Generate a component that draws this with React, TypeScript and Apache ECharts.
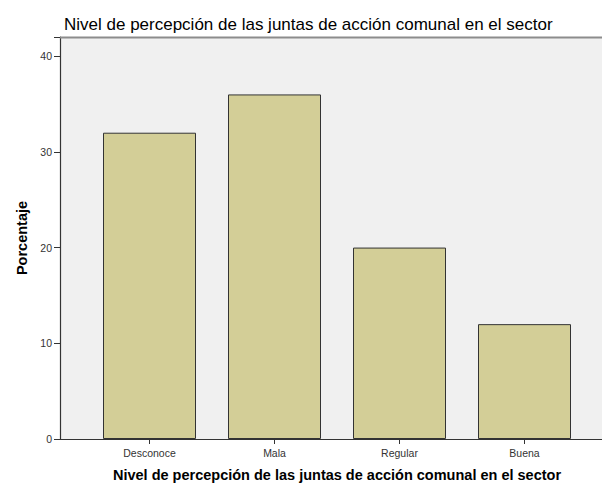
import React, { useEffect, useRef } from "react";
import * as echarts from "echarts";

const categories = ["Desconoce", "Mala", "Regular", "Buena"];
const percentages = [32, 36, 20, 12];
const yTicks = { min: 0, max: 42, interval: 10 };
const titleText = "Nivel de percepción de las juntas de acción comunal en el sector";
const xAxisTitle = "Nivel de percepción de las juntas de acción comunal en el sector";
const yAxisTitle = "Porcentaje";

export default function App() {
  const ref = useRef<HTMLDivElement>(null);
  useEffect(() => {
    if (!ref.current) return;
    const chart = echarts.init(ref.current, null, { renderer: "svg" });
    const font = "Liberation Sans, Arial, sans-serif";
    chart.setOption({
      animation: false,
      backgroundColor: "#ffffff",
      textStyle: { fontFamily: font },
      title: {
        text: titleText,
        left: 59,
        top: 11,
        textStyle: { fontSize: 17, fontWeight: "normal", color: "#000", fontFamily: font },
      },
      graphic: [
        {
          type: "rect",
          z: 0,
          shape: { x: 60, y: 37, width: 545, height: 402 },
          style: { fill: "#f0f0f0" },
        },
        {
          type: "line",
          z: 1,
          shape: { x1: 60, y1: 37.5, x2: 605, y2: 37.5 },
          style: { stroke: "#8c8c8c", lineWidth: 2 },
        },
        {
          type: "line",
          z: 10,
          shape: { x1: 60, y1: 439.5, x2: 605, y2: 439.5 },
          style: { stroke: "#333333", lineWidth: 1.2 },
        },
      ],
      grid: { left: 87, right: 15, top: 37, bottom: 48 },
      xAxis: {
        type: "category",
        data: categories,
        axisLine: { show: false },
        axisTick: { show: true, alignWithLabel: true, length: 5, lineStyle: { color: "#333" } },
        axisLabel: { fontSize: 10.5, color: "#333", margin: 8, fontFamily: font },
        name: xAxisTitle,
        nameLocation: "middle",
        nameGap: 28,
        nameTextStyle: { fontSize: 14.5, fontWeight: "bold", color: "#000", fontFamily: font },
      },
      yAxis: {
        type: "value",
        min: yTicks.min,
        max: yTicks.max,
        interval: yTicks.interval,
        offset: 27,
        splitLine: { show: false },
        axisLine: { show: true, lineStyle: { color: "#333", width: 1.2 } },
        axisTick: { show: true, length: 6, lineStyle: { color: "#333" } },
        axisLabel: {
          fontSize: 10.5,
          color: "#333",
          margin: 8,
          fontFamily: font,
          formatter: (v: number) => (v % 10 === 0 ? String(v) : ""),
        },
        name: yAxisTitle,
        nameLocation: "middle",
        nameGap: 31,
        nameTextStyle: { fontSize: 14.5, fontWeight: "bold", color: "#000", fontFamily: font },
      },
      series: [
        {
          type: "bar",
          data: percentages,
          barWidth: 93,
          z: 5,
          itemStyle: { color: "#d3ce97", borderColor: "#333333", borderWidth: 1 },
        },
      ],
    });
    return () => chart.dispose();
  }, []);
  return (
    <div
      ref={ref}
      style={{ position: "fixed", left: 0, top: 0, width: 602, height: 487 }}
    />
  );
}
